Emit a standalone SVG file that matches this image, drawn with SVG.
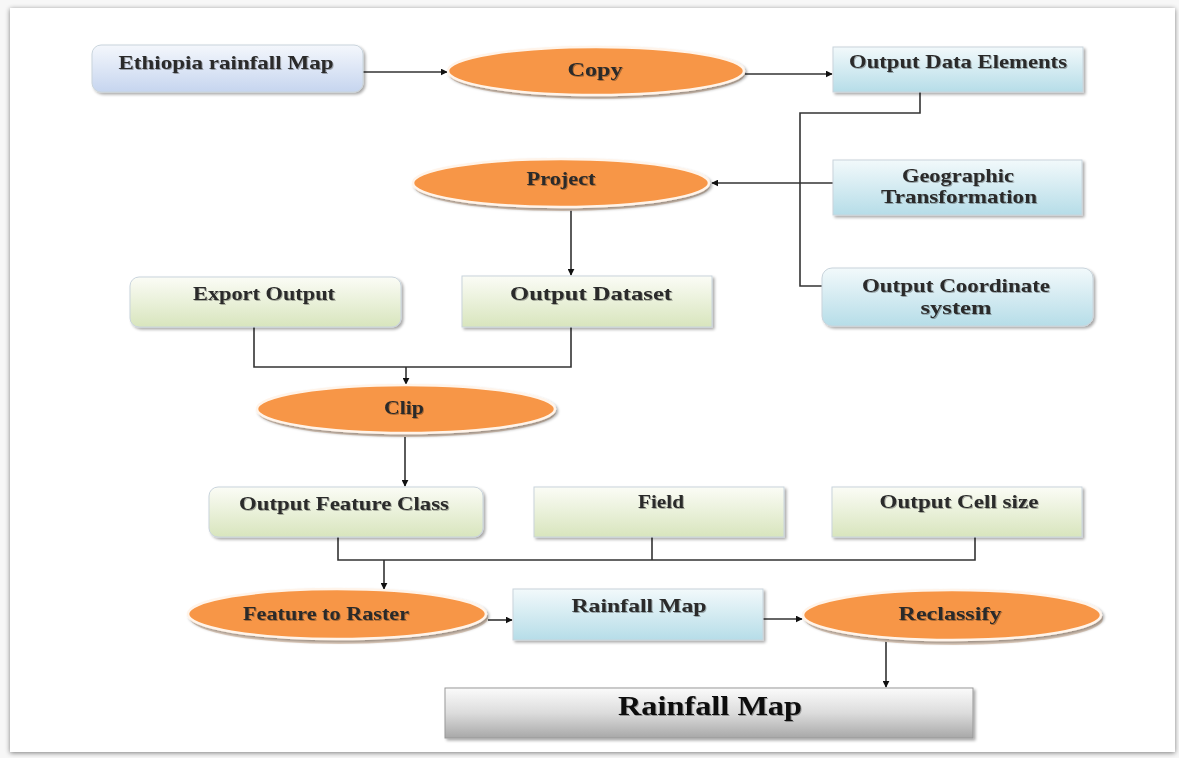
<svg xmlns="http://www.w3.org/2000/svg" width="1179" height="758" viewBox="0 0 1179 758">
  <defs>
    <linearGradient id="gBlue" x1="0" y1="0" x2="0" y2="1">
      <stop offset="0" stop-color="#f4f7fc"/>
      <stop offset="1" stop-color="#c6d5ef"/>
    </linearGradient>
    <linearGradient id="gCyan" x1="0" y1="0" x2="0" y2="1">
      <stop offset="0" stop-color="#f2f9fb"/>
      <stop offset="1" stop-color="#b6dde8"/>
    </linearGradient>
    <linearGradient id="gGreen" x1="0" y1="0" x2="0" y2="1">
      <stop offset="0" stop-color="#fbfcf6"/>
      <stop offset="1" stop-color="#d8e5bd"/>
    </linearGradient>
    <linearGradient id="gGrey" x1="0" y1="0" x2="0" y2="1">
      <stop offset="0" stop-color="#fbfbfb"/>
      <stop offset="0.5" stop-color="#dcdcdc"/>
      <stop offset="1" stop-color="#a8a8a8"/>
    </linearGradient>
    <filter id="shadow" x="-10%" y="-20%" width="120%" height="150%">
      <feGaussianBlur in="SourceAlpha" stdDeviation="1.5"/>
      <feOffset dx="2" dy="2" result="b"/>
      <feComponentTransfer><feFuncA type="linear" slope="0.35"/></feComponentTransfer>
      <feMerge><feMergeNode/><feMergeNode in="SourceGraphic"/></feMerge>
    </filter>
    <filter id="pageShadow" x="-5%" y="-5%" width="110%" height="110%">
      <feGaussianBlur in="SourceAlpha" stdDeviation="2.5"/>
      <feOffset dx="0" dy="1"/>
      <feComponentTransfer><feFuncA type="linear" slope="0.5"/></feComponentTransfer>
      <feMerge><feMergeNode/><feMergeNode in="SourceGraphic"/></feMerge>
    </filter>
    <filter id="txt" x="-5%" y="-20%" width="110%" height="140%">
      <feGaussianBlur in="SourceAlpha" stdDeviation="0.6"/>
      <feOffset dx="1" dy="1"/>
      <feComponentTransfer><feFuncA type="linear" slope="0.3"/></feComponentTransfer>
      <feMerge><feMergeNode/><feMergeNode in="SourceGraphic"/></feMerge>
    </filter>
    <marker id="arr" viewBox="0 0 10 10" refX="9" refY="5" markerWidth="7" markerHeight="7" markerUnits="userSpaceOnUse" orient="auto">
      <path d="M0,0 L10,5 L0,10 z" fill="#111"/>
    </marker>
  </defs>
  <style>
    .lbl { font-family: "Liberation Serif", "Times New Roman", serif; font-weight: bold; font-size: 19px; fill: #2a2a2a; text-anchor: middle; }
    .big { font-size: 27px; fill: #111; }
    .box { stroke: #c9d4dc; stroke-width: 1; filter: url(#shadow); }
    .oval { fill: #f79646; stroke: #fff4ea; stroke-width: 2.5; filter: url(#shadow); }
    .ovalRim { fill: #e9d6c6; }
    .wire { fill: none; stroke: #333; stroke-width: 1.6; }
  </style>

  <rect width="1179" height="758" fill="#f7f7f7"/>
  <rect x="10" y="8" width="1165" height="744" fill="#ffffff" filter="url(#pageShadow)"/>

  <g id="connectors">
    <path class="wire" d="M363,72 H447" marker-end="url(#arr)"/>
    <path class="wire" d="M745,74 H832" marker-end="url(#arr)"/>
    <path class="wire" d="M920,92 V113 H800 V286 H822"/>
    <path class="wire" d="M833,183 H712" marker-end="url(#arr)"/>
    <path class="wire" d="M571,209 V275" marker-end="url(#arr)"/>
    <path class="wire" d="M254,327 V367 H571 V327"/>
    <path class="wire" d="M406,367 V384" marker-end="url(#arr)"/>
    <path class="wire" d="M405,434 V486" marker-end="url(#arr)"/>
    <path class="wire" d="M338,537 V560 H975 V537"/>
    <path class="wire" d="M652,537 V560"/>
    <path class="wire" d="M384,560 V589" marker-end="url(#arr)"/>
    <path class="wire" d="M488,620 H512" marker-end="url(#arr)"/>
    <path class="wire" d="M763,619 H802" marker-end="url(#arr)"/>
    <path class="wire" d="M886,641 V687" marker-end="url(#arr)"/>
  </g>

  <g id="ethiopia-map">
    <rect class="box" x="92" y="45" width="271" height="47" rx="9" fill="url(#gBlue)"/>
    <text class="lbl" x="226" y="69" textLength="215" lengthAdjust="spacingAndGlyphs" filter="url(#txt)">Ethiopia rainfall Map</text>
  </g>

  <g id="copy">
    <ellipse class="ovalRim" cx="597" cy="74" rx="148" ry="25"/>
    <ellipse class="oval" cx="596" cy="71" rx="148" ry="24"/>
    <text class="lbl" x="595" y="76" textLength="55" lengthAdjust="spacingAndGlyphs" filter="url(#txt)">Copy</text>
  </g>

  <g id="output-data-elements">
    <rect class="box" x="833" y="47" width="250" height="45" fill="url(#gCyan)"/>
    <text class="lbl" x="958" y="68" textLength="218" lengthAdjust="spacingAndGlyphs" filter="url(#txt)">Output Data Elements</text>
  </g>

  <g id="geographic-transformation">
    <rect class="box" x="833" y="160" width="249" height="55" fill="url(#gCyan)"/>
    <text class="lbl" x="958" y="182" textLength="112" lengthAdjust="spacingAndGlyphs" filter="url(#txt)">Geographic</text>
    <text class="lbl" x="959" y="203" textLength="156" lengthAdjust="spacingAndGlyphs" filter="url(#txt)">Transformation</text>
  </g>

  <g id="output-coordinate-system">
    <rect class="box" x="822" y="268" width="271" height="58" rx="10" fill="url(#gCyan)"/>
    <text class="lbl" x="956" y="292" textLength="188" lengthAdjust="spacingAndGlyphs" filter="url(#txt)">Output Coordinate</text>
    <text class="lbl" x="956" y="314" textLength="71" lengthAdjust="spacingAndGlyphs" filter="url(#txt)">system</text>
  </g>

  <g id="project">
    <ellipse class="ovalRim" cx="562" cy="186" rx="148" ry="25"/>
    <ellipse class="oval" cx="561" cy="183" rx="148" ry="24"/>
    <text class="lbl" x="561" y="185" textLength="69" lengthAdjust="spacingAndGlyphs" filter="url(#txt)">Project</text>
  </g>

  <g id="export-output">
    <rect class="box" x="130" y="277" width="271" height="50" rx="9" fill="url(#gGreen)"/>
    <text class="lbl" x="264" y="300" textLength="142" lengthAdjust="spacingAndGlyphs" filter="url(#txt)">Export Output</text>
  </g>

  <g id="output-dataset">
    <rect class="box" x="462" y="276" width="250" height="51" fill="url(#gGreen)"/>
    <text class="lbl" x="591" y="300" textLength="162" lengthAdjust="spacingAndGlyphs" filter="url(#txt)">Output Dataset</text>
  </g>

  <g id="clip">
    <ellipse class="ovalRim" cx="407" cy="412" rx="149" ry="25"/>
    <ellipse class="oval" cx="406" cy="409" rx="149" ry="24"/>
    <text class="lbl" x="404" y="414" textLength="40" lengthAdjust="spacingAndGlyphs" filter="url(#txt)">Clip</text>
  </g>

  <g id="output-feature-class">
    <rect class="box" x="209" y="487" width="274" height="50" rx="9" fill="url(#gGreen)"/>
    <text class="lbl" x="344" y="510" textLength="210" lengthAdjust="spacingAndGlyphs" filter="url(#txt)">Output Feature Class</text>
  </g>

  <g id="field">
    <rect class="box" x="534" y="487" width="250" height="50" fill="url(#gGreen)"/>
    <text class="lbl" x="661" y="508" textLength="46" lengthAdjust="spacingAndGlyphs" filter="url(#txt)">Field</text>
  </g>

  <g id="output-cell-size">
    <rect class="box" x="832" y="487" width="250" height="50" fill="url(#gGreen)"/>
    <text class="lbl" x="959" y="508" textLength="159" lengthAdjust="spacingAndGlyphs" filter="url(#txt)">Output Cell size</text>
  </g>

  <g id="feature-to-raster">
    <ellipse class="ovalRim" cx="339" cy="618" rx="149" ry="26"/>
    <ellipse class="oval" cx="337" cy="614" rx="149" ry="25"/>
    <text class="lbl" x="326" y="620" textLength="166" lengthAdjust="spacingAndGlyphs" filter="url(#txt)">Feature to Raster</text>
  </g>

  <g id="rainfall-map-mid">
    <rect class="box" x="513" y="589" width="250" height="51" fill="url(#gCyan)"/>
    <text class="lbl" x="639" y="612" textLength="135" lengthAdjust="spacingAndGlyphs" filter="url(#txt)">Rainfall Map</text>
  </g>

  <g id="reclassify">
    <ellipse class="ovalRim" cx="954" cy="619" rx="149" ry="26"/>
    <ellipse class="oval" cx="952" cy="615" rx="149" ry="25"/>
    <text class="lbl" x="950" y="620" textLength="103" lengthAdjust="spacingAndGlyphs" filter="url(#txt)">Reclassify</text>
  </g>

  <g id="rainfall-map-final">
    <rect x="445" y="688" width="528" height="50" fill="url(#gGrey)" stroke="#999" stroke-width="1" filter="url(#shadow)"/>
    <text class="lbl big" x="710" y="715" textLength="184" lengthAdjust="spacingAndGlyphs" filter="url(#txt)">Rainfall Map</text>
  </g>
</svg>
